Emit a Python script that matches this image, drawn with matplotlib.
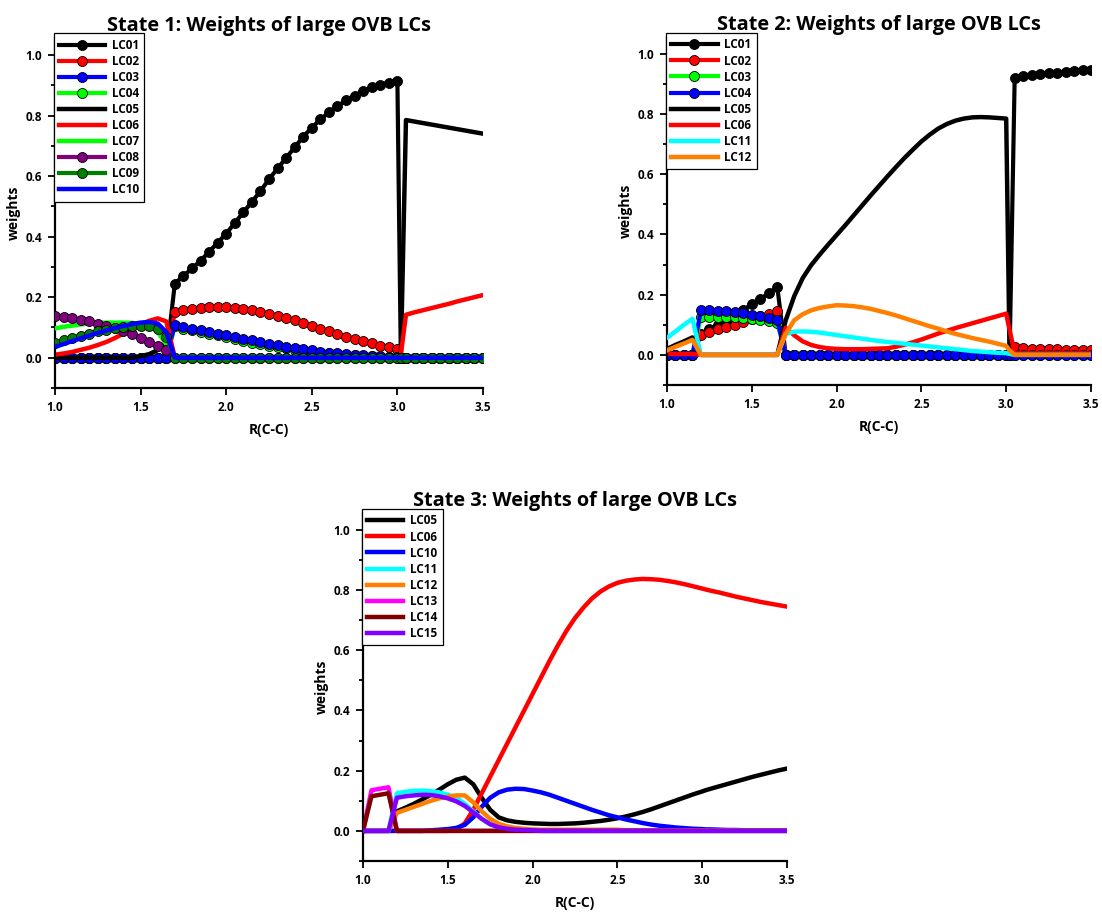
import matplotlib
matplotlib.use("Agg")
import matplotlib.pyplot as plt
from matplotlib.ticker import MultipleLocator, FormatStrFormatter

plt.rcParams['font.family'] = ['Open Sans', 'DejaVu Sans']
plt.rcParams['font.weight'] = 'bold'

# ---------------- data ----------------
# R(C-C) grid: 1.00 .. 3.00 step 0.05, extra point 3.02, then 3.05 .. 3.50
R = [1.00, 1.05, 1.10, 1.15, 1.20, 1.25, 1.30, 1.35, 1.40, 1.45,
     1.50, 1.55, 1.60, 1.65, 1.70, 1.75, 1.80, 1.85, 1.90, 1.95,
     2.00, 2.05, 2.10, 2.15, 2.20, 2.25, 2.30, 2.35, 2.40, 2.45,
     2.50, 2.55, 2.60, 2.65, 2.70, 2.75, 2.80, 2.85, 2.90, 2.95,
     3.00, 3.02, 3.05, 3.10, 3.15, 3.20, 3.25, 3.30, 3.35, 3.40,
     3.45, 3.50]

# State 1
s1_LC01 = [0]*14 + [0.245, 0.27, 0.295, 0.32, 0.35, 0.38, 0.41, 0.445, 0.48, 0.515,
                    0.55, 0.59, 0.625, 0.66, 0.695, 0.73, 0.76, 0.787, 0.81, 0.831,
                    0.85, 0.866, 0.88, 0.893, 0.902, 0.908, 0.915] + [0]*11
s1_LC02 = [0]*14 + [0.15, 0.157, 0.162, 0.165, 0.167, 0.168, 0.167, 0.165, 0.162, 0.157,
                    0.152, 0.146, 0.139, 0.131, 0.123, 0.114, 0.105, 0.096, 0.087, 0.078,
                    0.07, 0.062, 0.054, 0.047, 0.04, 0.034, 0.028] + [0]*11
s1_LC03 = [0]*14 + [0.108, 0.10, 0.095, 0.09, 0.085, 0.08, 0.074, 0.068, 0.062, 0.057,
                    0.051, 0.046, 0.041, 0.036, 0.032, 0.028, 0.024, 0.02, 0.017, 0.014,
                    0.012, 0.01, 0.008, 0.006, 0.005, 0.004, 0.003] + [0]*11
s1_LC04 = [0]*14 + [0.104, 0.096, 0.09, 0.085, 0.079, 0.074, 0.068, 0.062, 0.056, 0.05,
                    0.045, 0.04, 0.035, 0.031, 0.027, 0.023, 0.02, 0.017, 0.014, 0.012,
                    0.01, 0.008, 0.006, 0.005, 0.004, 0.003, 0.002] + [0]*11
s1_LC05 = [0]*10 + [0.005, 0.012, 0.025, 0.045] + [0]*27 + [0.0] + \
          [0.785, 0.78, 0.775, 0.77, 0.765, 0.76, 0.755, 0.75, 0.745, 0.74]
s1_LC06 = [0.01, 0.014, 0.019, 0.026, 0.033, 0.042, 0.052, 0.065, 0.08, 0.095,
           0.11, 0.122, 0.13, 0.12] + [0]*27 + [0.01] + \
          [0.142, 0.15, 0.157, 0.164, 0.171, 0.178, 0.186, 0.193, 0.2, 0.207]
s1_LC07 = [0.097, 0.102, 0.106, 0.11, 0.113, 0.115, 0.116, 0.116, 0.116, 0.115,
           0.112, 0.105, 0.085, 0.045] + [0]*38
s1_LC08 = [0.138, 0.135, 0.13, 0.125, 0.12, 0.113, 0.105, 0.097, 0.088, 0.078,
           0.066, 0.052, 0.038, 0.025] + [0]*38
s1_LC09 = [0.048, 0.057, 0.066, 0.073, 0.08, 0.087, 0.093, 0.098, 0.102, 0.105,
           0.106, 0.104, 0.095, 0.07] + [0]*38
s1_LC10 = [0.036, 0.045, 0.055, 0.064, 0.073, 0.082, 0.09, 0.098, 0.105, 0.111,
           0.116, 0.118, 0.113, 0.085] + [0]*38

# State 2
s2_LC01 = [0]*4 + [0.07, 0.085, 0.1, 0.113, 0.13, 0.15, 0.168, 0.186, 0.204, 0.227] + \
          [0]*27 + [0.0] + \
          [0.921, 0.926, 0.93, 0.933, 0.936, 0.938, 0.941, 0.943, 0.945, 0.947]
s2_LC02 = [0]*4 + [0.065, 0.075, 0.085, 0.093, 0.1, 0.11, 0.12, 0.128, 0.135, 0.145] + \
          [0]*27 + [0.0] + \
          [0.025, 0.023, 0.021, 0.02, 0.019, 0.018, 0.017, 0.016, 0.016, 0.015]
s2_LC03 = [0]*4 + [0.125, 0.127, 0.127, 0.126, 0.125, 0.122, 0.12, 0.117, 0.112, 0.105] + [0]*38
s2_LC04 = [0]*4 + [0.148, 0.148, 0.147, 0.145, 0.142, 0.138, 0.134, 0.128, 0.122, 0.115] + [0]*38
s2_LC05 = [0.02, 0.033, 0.045, 0.058] + [0]*10 + \
          [0.115, 0.195, 0.255, 0.298, 0.333, 0.366, 0.398, 0.43, 0.463, 0.496,
           0.529, 0.561, 0.593, 0.624, 0.654, 0.682, 0.709, 0.732, 0.752, 0.767,
           0.778, 0.785, 0.789, 0.79, 0.789, 0.787, 0.785] + [0.0] + [0]*10
s2_LC06 = [0.003]*4 + [0]*10 + \
          [0.09, 0.065, 0.045, 0.033, 0.026, 0.022, 0.02, 0.019, 0.019, 0.019,
           0.02, 0.021, 0.022, 0.027, 0.034, 0.042, 0.051, 0.061, 0.071, 0.08,
           0.089, 0.097, 0.105, 0.113, 0.121, 0.129, 0.137] + [0.083] + [0.005]*10
s2_LC11 = [0.057, 0.078, 0.1, 0.12] + [0]*10 + \
          [0.07, 0.077, 0.078, 0.077, 0.074, 0.07, 0.066, 0.062, 0.058, 0.054,
           0.05, 0.046, 0.043, 0.04, 0.037, 0.034, 0.031, 0.028, 0.025, 0.022,
           0.019, 0.016, 0.013, 0.011, 0.009, 0.007, 0.006] + [0.003] + [0]*10
s2_LC12 = [0.015, 0.027, 0.038, 0.05] + [0]*10 + \
          [0.07, 0.115, 0.135, 0.148, 0.156, 0.161, 0.165, 0.164, 0.162, 0.158,
           0.153, 0.146, 0.139, 0.131, 0.122, 0.113, 0.104, 0.095, 0.087, 0.078,
           0.07, 0.063, 0.056, 0.05, 0.044, 0.037, 0.03] + [0.015] + [0]*10

# State 3
s3_LC05 = [0]*4 + [0.065, 0.077, 0.09, 0.105, 0.12, 0.137, 0.155, 0.17, 0.177, 0.155,
                   0.11, 0.07, 0.045, 0.035, 0.03, 0.027, 0.025, 0.024, 0.023, 0.023,
                   0.024, 0.025, 0.027, 0.03, 0.033, 0.037, 0.042, 0.048, 0.055, 0.063,
                   0.072, 0.082, 0.092, 0.102, 0.112, 0.122, 0.131] + [0.135] + \
          [0.14, 0.148, 0.156, 0.164, 0.172, 0.18, 0.187, 0.194, 0.201, 0.207]
s3_LC06 = [0]*11 + [0.005, 0.025, 0.07, 0.125, 0.18, 0.235, 0.29, 0.345, 0.4, 0.455,
                    0.51, 0.565, 0.617, 0.665, 0.707, 0.742, 0.772, 0.795, 0.812, 0.824,
                    0.831, 0.835, 0.837, 0.836, 0.834, 0.83, 0.825, 0.819, 0.812, 0.805] + \
          [0.802] + [0.798, 0.792, 0.785, 0.778, 0.772, 0.766, 0.76, 0.755, 0.75, 0.745]
s3_LC10 = [0]*8 + [0.002, 0.004, 0.006, 0.01, 0.02, 0.045, 0.08, 0.11, 0.128, 0.137,
                   0.14, 0.139, 0.134, 0.128, 0.12, 0.11, 0.1, 0.09, 0.08, 0.07,
                   0.061, 0.052, 0.045, 0.038, 0.032, 0.026, 0.021, 0.017, 0.014, 0.011,
                   0.009, 0.007, 0.006] + [0.005] + \
          [0.005, 0.004, 0.003, 0.003, 0.002, 0.002, 0.001, 0.001, 0.001, 0.001]
s3_LC11 = [0]*4 + [0.125, 0.13, 0.133, 0.134, 0.132, 0.128, 0.12, 0.11, 0.09, 0.065,
                   0.04, 0.022, 0.012, 0.007, 0.004, 0.003, 0.002] + [0.001]*31
s3_LC12 = [0]*4 + [0.06, 0.07, 0.08, 0.09, 0.1, 0.108, 0.114, 0.118, 0.118, 0.095,
                   0.065, 0.04, 0.024, 0.015, 0.01, 0.007, 0.005] + \
          [0.004]*10 + [0.002]*10 + [0.001]*11
s3_LC13 = [0, 0.135, 0.14, 0.145] + [0]*48
s3_LC14 = [0, 0.115, 0.12, 0.125] + [0]*48
s3_LC15 = [0]*4 + [0.11, 0.115, 0.118, 0.12, 0.119, 0.115, 0.108, 0.098, 0.083, 0.062,
                   0.04, 0.022, 0.012, 0.007, 0.004, 0.003, 0.002] + [0]*31

# ---------------- styles ----------------
BLACK, RED, BLUE, LIME = '#000000', '#ff0000', '#0000ff', '#00ff00'
CYAN, ORANGE, MAGENTA = '#00ffff', '#ff8000', '#ff00ff'
DARKRED, VIOLET, PURPLE, DKGREEN = '#800000', '#8000ff', '#800080', '#008000'

# (label, values, colour, has markers, z-order)
state1 = [('LC01', s1_LC01, BLACK, True, 2.0), ('LC02', s1_LC02, RED, True, 2.1),
          ('LC03', s1_LC03, BLUE, True, 2.3), ('LC04', s1_LC04, LIME, True, 2.2),
          ('LC05', s1_LC05, BLACK, False, 2.4), ('LC06', s1_LC06, RED, False, 2.5),
          ('LC07', s1_LC07, LIME, False, 2.6), ('LC08', s1_LC08, PURPLE, True, 2.7),
          ('LC09', s1_LC09, DKGREEN, True, 2.8), ('LC10', s1_LC10, BLUE, False, 2.9)]
state2 = [('LC01', s2_LC01, BLACK, True, 2.0), ('LC02', s2_LC02, RED, True, 2.1),
          ('LC03', s2_LC03, LIME, True, 2.2), ('LC04', s2_LC04, BLUE, True, 2.3),
          ('LC05', s2_LC05, BLACK, False, 2.4), ('LC06', s2_LC06, RED, False, 2.5),
          ('LC11', s2_LC11, CYAN, False, 2.6), ('LC12', s2_LC12, ORANGE, False, 2.7)]
state3 = [('LC05', s3_LC05, BLACK, False, 2.0), ('LC06', s3_LC06, RED, False, 2.1),
          ('LC10', s3_LC10, BLUE, False, 2.2), ('LC11', s3_LC11, CYAN, False, 2.3),
          ('LC12', s3_LC12, ORANGE, False, 2.4), ('LC13', s3_LC13, MAGENTA, False, 2.5),
          ('LC14', s3_LC14, DARKRED, False, 2.6), ('LC15', s3_LC15, VIOLET, False, 2.7)]

fig = plt.figure(figsize=(11.02, 9.14), dpi=100)

W, H = 1102, 914
def axes_px(left, right, top, bottom):
    return fig.add_axes([left / W, 1 - bottom / H, (right - left) / W, (bottom - top) / H])

panels = [
    (axes_px(55, 483, 38, 388), state1, 'State 1: Weights of large OVB LCs', 3.9, 0.013),
    (axes_px(667, 1091, 37, 385), state2, 'State 2: Weights of large OVB LCs', 3.9, 0.011),
    (axes_px(363, 787, 513, 861), state3, 'State 3: Weights of large OVB LCs', 3.05, 0.011),
]

for ax, series, title, hlen, ytop in panels:
    for name, vals, col, mk, z in series:
        if mk:
            ax.plot(R, vals, color=col, lw=3, marker='o', ms=7.2, zorder=z,
                    mfc=col, mec='black', mew=0.6, label=name)
        else:
            ax.plot(R, vals, color=col, lw=3.2, label=name, zorder=z)
    ax.set_xlim(1.0, 3.5)
    ax.set_ylim(-0.1, 1.056)
    ax.xaxis.set_major_locator(MultipleLocator(0.5))
    ax.yaxis.set_major_locator(MultipleLocator(0.2))
    ax.yaxis.set_minor_locator(MultipleLocator(0.1))
    ax.xaxis.set_major_formatter(FormatStrFormatter('%.1f'))
    ax.yaxis.set_major_formatter(FormatStrFormatter('%.1f'))
    for s in ('top', 'right'):
        ax.spines[s].set_visible(False)
    for s in ('left', 'bottom'):
        ax.spines[s].set_linewidth(1.6)
    ax.tick_params(axis='both', which='major', length=5, width=1.3, labelsize=8.5, pad=4.5)
    ax.tick_params(axis='y', which='minor', length=3, width=1.3)
    for lab in ax.get_xticklabels() + ax.get_yticklabels():
        lab.set_fontweight('bold')
    ax.set_title(title, fontsize=14.3, fontweight='bold', pad=5)
    ax.set_ylabel('weights', fontsize=10, fontweight='bold', labelpad=3)
    ax.set_xlabel('R(C-C)', fontsize=10, fontweight='bold', labelpad=6)
    leg = ax.legend(loc='upper left', bbox_to_anchor=(-0.002, 1 + ytop), borderaxespad=0,
                    fontsize=8.5, handlelength=hlen, handletextpad=0.55,
                    labelspacing=0.26, borderpad=0.45, numpoints=1,
                    fancybox=False, framealpha=1, edgecolor='black')
    leg.get_frame().set_linewidth(0.9)
    for t in leg.get_texts():
        t.set_fontweight('bold')

fig.savefig('out.png', dpi=100)
